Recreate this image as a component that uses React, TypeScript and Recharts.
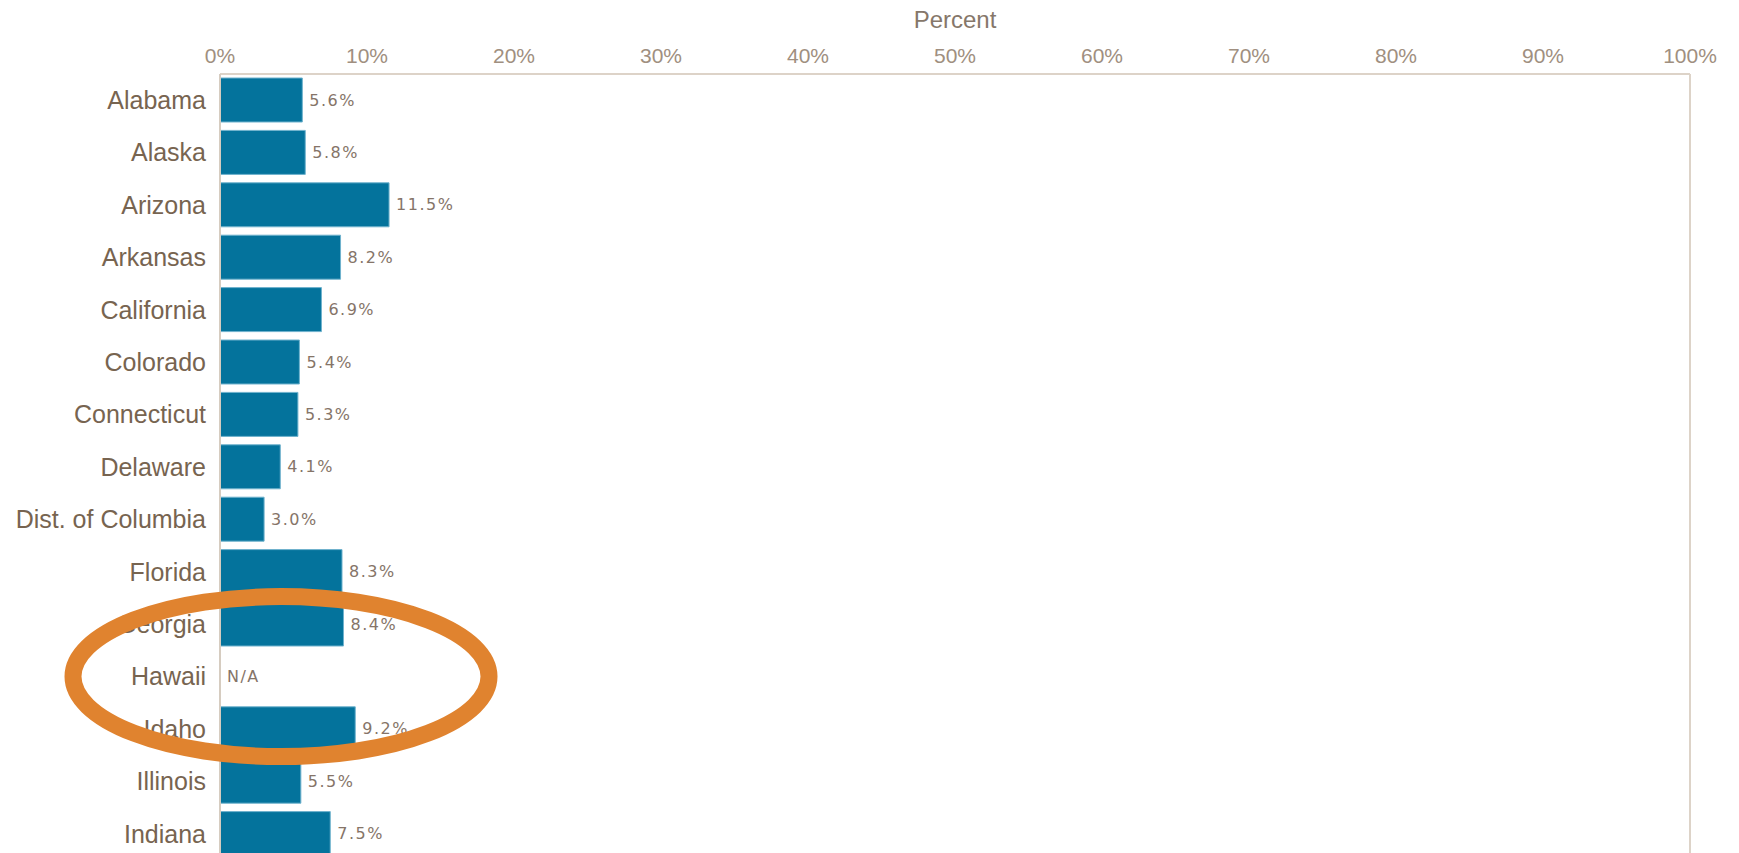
import React from 'react';
import { BarChart, Bar, XAxis, YAxis, LabelList, ReferenceLine, Cell } from 'recharts';

const states = [
  'Alabama', 'Alaska', 'Arizona', 'Arkansas', 'California', 'Colorado', 'Connecticut',
  'Delaware', 'Dist. of Columbia', 'Florida', 'Georgia', 'Hawaii', 'Idaho', 'Illinois', 'Indiana',
];
const percents: (number | null)[] = [5.6, 5.8, 11.5, 8.2, 6.9, 5.4, 5.3, 4.1, 3.0, 8.3, 8.4, null, 9.2, 5.5, 7.5];
const xTicks = [0, 10, 20, 30, 40, 50, 60, 70, 80, 90, 100];
const highlighted = 'Hawaii';

const data = states.map((s, i) => ({
  state: s,
  value: percents[i] ?? 0,
  label: percents[i] == null ? 'N/A' : `${(percents[i] as number).toFixed(1)}%`,
}));

const W = 1739;
const H = 870;
const M = { top: 30, right: 49, bottom: 10, left: 20 };
const XAXIS_H = 44;
const YAXIS_W = 200;

const ValueLabel = (props: any) => {
  const { x, y, width, height, value } = props;
  const isNA = value === 'N/A';
  return (
    <text
      x={Number(x) + (isNA ? 0 : Number(width)) + 7}
      y={Number(y) + Number(height) / 2}
      dy="0.35em"
      fill="#857468"
      fontSize={16}
      fontFamily="DejaVu Sans, sans-serif"
      letterSpacing={1.5}
      textAnchor="start"
    >
      {value}
    </text>
  );
};

export default function App() {
  const plotTop = M.top + XAXIS_H;
  const plotH = H - plotTop - M.bottom;
  const band = plotH / states.length;
  const plotLeft = M.left + YAXIS_W;
  const hi = states.indexOf(highlighted);
  const cy = plotTop + (hi + 0.5) * band;
  const cx = plotLeft + 61;
  return (
    <div style={{ position: 'fixed', left: 0, top: 0, width: W, height: 853, overflow: 'hidden', background: '#fff' }}>
      <BarChart
        width={W}
        height={H}
        data={data}
        layout="vertical"
        margin={M}
        barCategoryGap={4}
      >
        <XAxis
          type="number"
          orientation="top"
          domain={[0, 100]}
          ticks={xTicks}
          tickFormatter={(v: number) => `${v}%`}
          height={XAXIS_H}
          axisLine={{ stroke: '#ddd3c8', strokeWidth: 2 }}
          tickLine={false}
          tickMargin={5}
          tick={{ fill: '#a08f80', fontSize: 21, fontFamily: 'Liberation Sans, Arial, sans-serif' }}
          label={{ value: 'Percent', position: 'top', offset: 2, fill: '#86776a', fontSize: 24, fontFamily: 'Liberation Sans, Arial, sans-serif' }}
        />
        <YAxis
          type="category"
          dataKey="state"
          width={YAXIS_W}
          axisLine={{ stroke: '#d6ccc0', strokeWidth: 2 }}
          tickLine={false}
          tickMargin={8}
          interval={0}
          tick={{ fill: '#776450', fontSize: 25, fontFamily: 'Liberation Sans, Arial, sans-serif' }}
        />
        <ReferenceLine x={100} stroke="#ddd3c8" strokeWidth={2} />
        <Bar dataKey="value" fill="#04739c" stroke="#6fb2cd" strokeWidth={1} minPointSize={1} isAnimationActive={false}>
          {data.map((d) => (
            <Cell key={d.state} fill={d.label === 'N/A' ? 'none' : '#04739c'} stroke={d.label === 'N/A' ? 'none' : '#6fb2cd'} />
          ))}
          <LabelList dataKey="label" content={ValueLabel} />
        </Bar>
      </BarChart>
      <svg width={W} height={853} style={{ position: 'absolute', left: 0, top: 0, pointerEvents: 'none' }}>
        <ellipse cx={cx} cy={cy} rx={208} ry={80} fill="none" stroke="#e0832f" strokeWidth={17} />
      </svg>
    </div>
  );
}
